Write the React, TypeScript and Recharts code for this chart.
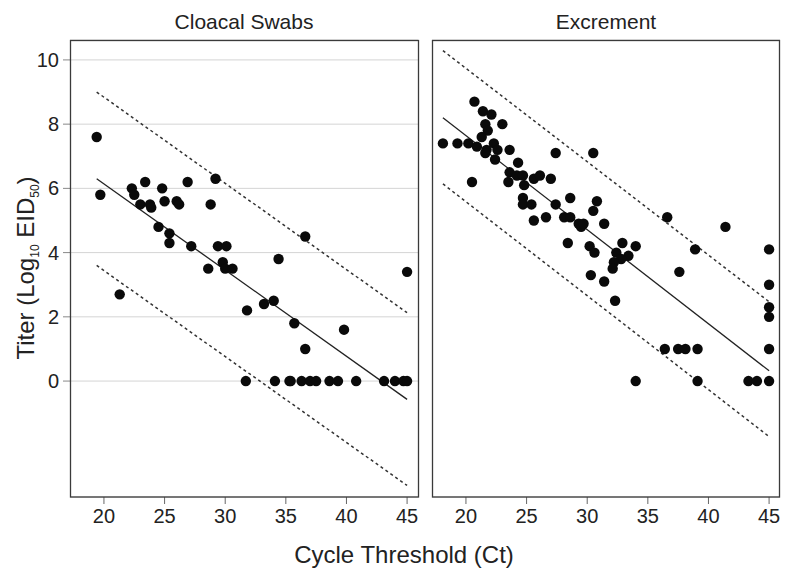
import { ScatterChart, Scatter, XAxis, YAxis, CartesianGrid } from 'recharts';

// Cloacal swabs: Ct vs titer (log10 EID50)
const cloacalCt = [
  19.4, 19.7, 21.3, 22.3, 22.5, 23.0, 23.4, 23.8, 23.9, 24.5, 24.8, 25.0, 25.4, 25.4,
  26.0, 26.2, 26.9, 27.2, 28.6, 28.8, 29.2, 29.4, 29.8, 30.0, 30.1, 30.6, 31.8, 33.2,
  34.0, 34.4, 35.7, 36.6, 36.6, 39.8, 45.0,
  31.7, 34.1, 35.3, 35.4, 36.3, 37.0, 37.5, 38.6, 39.3, 40.8, 43.1, 44.0, 44.7, 45.0,
];
const cloacalTiter = [
  7.6, 5.8, 2.7, 6.0, 5.8, 5.5, 6.2, 5.5, 5.4, 4.8, 6.0, 5.6, 4.6, 4.3,
  5.6, 5.5, 6.2, 4.2, 3.5, 5.5, 6.3, 4.2, 3.7, 3.5, 4.2, 3.5, 2.2, 2.4,
  2.5, 3.8, 1.8, 4.5, 1.0, 1.6, 3.4,
  0, 0, 0, 0, 0, 0, 0, 0, 0, 0, 0, 0, 0, 0,
];

// Excrement
const excrementCt = [
  18.1, 19.3, 20.2, 20.9, 20.7, 21.4, 22.1, 21.6, 21.8, 21.3, 23.0, 22.3, 22.6, 21.7,
  21.6, 22.4, 23.6, 20.5, 24.3, 23.6, 24.2, 24.7, 23.5, 24.8, 25.6, 26.1, 27.0, 27.4,
  30.5, 24.7, 24.7, 25.4, 25.6, 26.6, 27.4, 28.6, 28.1, 28.6, 29.3, 29.5, 29.7, 30.8,
  30.5, 31.4, 28.4, 30.2, 30.6, 32.9, 32.4, 33.4, 34.0, 36.6, 38.9, 41.4, 45.0, 32.8,
  32.2, 32.1, 30.3, 31.4, 32.3, 37.6, 45.0, 45.0, 45.0, 45.0, 36.4, 37.5, 38.1, 39.1,
  34.0, 39.1, 43.3, 44.0, 45.0,
];
const excrementTiter = [
  7.4, 7.4, 7.4, 7.3, 8.7, 8.4, 8.3, 8.0, 7.8, 7.6, 8.0, 7.4, 7.2, 7.2,
  7.1, 6.9, 7.2, 6.2, 6.8, 6.5, 6.4, 6.4, 6.2, 6.1, 6.3, 6.4, 6.3, 7.1,
  7.1, 5.7, 5.5, 5.5, 5.0, 5.1, 5.5, 5.7, 5.1, 5.1, 4.9, 4.8, 4.9, 5.6,
  5.3, 4.9, 4.3, 4.2, 4.0, 4.3, 4.0, 3.9, 4.2, 5.1, 4.1, 4.8, 4.1, 3.8,
  3.7, 3.5, 3.3, 3.1, 2.5, 3.4, 3.0, 2.3, 2.0, 1.0, 1.0, 1.0, 1.0, 1.0,
  0, 0, 0, 0, 0,
];

// regression line and prediction band endpoints (Ct, titer)
const cloacalFitCt = [19.4, 45.0];
const cloacalFit = [6.3, -0.57];
const cloacalUpper = [9.0, 2.13];
const cloacalLower = [3.6, -3.25];

const excrementFitCt = [18.1, 45.0];
const excrementFit = [8.2, 0.32];
const excrementUpper = [10.29, 2.47];
const excrementLower = [6.14, -1.73];

const xTicks = [20, 25, 30, 35, 40, 45];
const yTicks = [0, 2, 4, 6, 8, 10];
const xDomain = [17.2, 45.9];
const yDomain = [-3.61, 10.62];

const FONT = '"Liberation Sans", Arial, Helvetica, sans-serif';

const toPoints = (xs: number[], ys: number[]) => xs.map((x, i) => ({ x, y: ys[i] }));

const Dot = (p: any) => <circle cx={p.cx} cy={p.cy} r={5.2} fill="#0a0a0a" />;
const NoDot = () => <g />;

function Panel({ ct, titer, fitCt, fit, upper, lower, showY, width, margin }: any) {
  return (
    <ScatterChart width={width} height={540} margin={margin}>
      <CartesianGrid vertical={false} stroke="#d4d4d4" strokeWidth={1} />
      <XAxis
        type="number"
        dataKey="x"
        domain={xDomain}
        ticks={xTicks}
        allowDataOverflow
        height={43}
        axisLine={false}
        tickLine={{ stroke: '#666' }}
        tickSize={7}
        tickMargin={5}
        tick={{ fontSize: 20, fill: '#222', fontFamily: FONT }}
      />
      <YAxis
        type="number"
        dataKey="y"
        domain={yDomain}
        ticks={yTicks}
        allowDataOverflow
        width={showY ? 70 : 0}
        axisLine={false}
        tickLine={showY ? { stroke: '#888' } : false}
        tick={showY ? { fontSize: 20, fill: '#222', fontFamily: FONT } : false}
        tickSize={7}
        tickMargin={4}
      />
      <Scatter data={toPoints(fitCt, upper)} line={{ stroke: '#333', strokeWidth: 1.5, strokeDasharray: '3 3' }} shape={NoDot} isAnimationActive={false} />
      <Scatter data={toPoints(fitCt, lower)} line={{ stroke: '#333', strokeWidth: 1.5, strokeDasharray: '3 3' }} shape={NoDot} isAnimationActive={false} />
      <Scatter data={toPoints(fitCt, fit)} line={{ stroke: '#222', strokeWidth: 1.3 }} shape={NoDot} isAnimationActive={false} />
      <Scatter data={toPoints(ct, titer)} shape={Dot} isAnimationActive={false} />
    </ScatterChart>
  );
}

export default function App() {
  return (
    <div style={{ position: 'absolute', left: 0, top: 0, width: 785, height: 568, background: '#fff', fontFamily: FONT }}>
      <div style={{ position: 'absolute', left: 0, top: 0 }}>
        <Panel
          ct={cloacalCt}
          titer={cloacalTiter}
          fitCt={cloacalFitCt}
          fit={cloacalFit}
          upper={cloacalUpper}
          lower={cloacalLower}
          showY
          width={425}
          margin={{ top: 40, right: 7, bottom: 0, left: 0 }}
        />
      </div>
      <div style={{ position: 'absolute', left: 425, top: 0 }}>
        <Panel
          ct={excrementCt}
          titer={excrementTiter}
          fitCt={excrementFitCt}
          fit={excrementFit}
          upper={excrementUpper}
          lower={excrementLower}
          showY={false}
          width={360}
          margin={{ top: 40, right: 5, bottom: 0, left: 7 }}
        />
      </div>
      <svg width={785} height={568} style={{ position: 'absolute', left: 0, top: 0, pointerEvents: 'none' }}>
        <rect x={70.5} y={40.5} width={348} height={456.5} fill="none" stroke="#3a3a3a" strokeWidth={1.3} />
        <rect x={432.5} y={40.5} width={347} height={456.5} fill="none" stroke="#3a3a3a" strokeWidth={1.3} />
        <text x={244} y={29} textAnchor="middle" fontSize={21} fill="#222" fontFamily={FONT}>Cloacal Swabs</text>
        <text x={606} y={29} textAnchor="middle" fontSize={21} fill="#222" fontFamily={FONT}>Excrement</text>
        <text x={404} y={563} textAnchor="middle" fontSize={24} fill="#222" fontFamily={FONT}>Cycle Threshold (Ct)</text>
        <text transform="translate(34,268) rotate(-90)" textAnchor="middle" fontSize={24} fill="#222" fontFamily={FONT}>
          Titer (Log
          <tspan fontSize={12} dy={5}>10</tspan>
          <tspan dy={-5}> EID</tspan>
          <tspan fontSize={12} dy={5}>50</tspan>
          <tspan dy={-5}>)</tspan>
        </text>
      </svg>
    </div>
  );
}
